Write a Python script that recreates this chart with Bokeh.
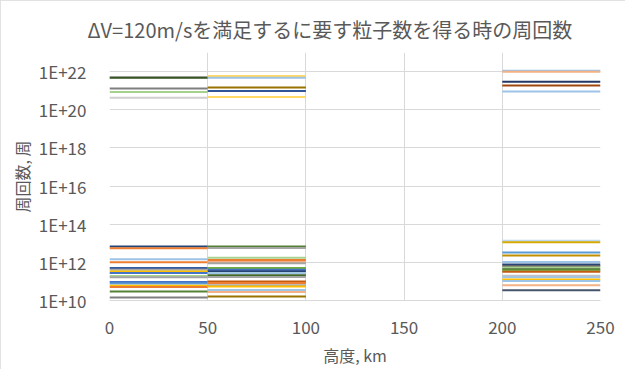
from bokeh.plotting import figure
from bokeh.models import ColumnDataSource, Range1d, FixedTicker, CustomJSTickFormatter, InlineStyleSheet
from bokeh.embed import file_html
from bokeh.resources import INLINE

# ---------------- data ----------------
title_text = "ΔV=120m/sを満足するに要す粒子数を得る時の周回数"
x_label = "高度, km"
y_label = "周回数, 周"
x_ticks = [0, 50, 100, 150, 200, 250]
y_ticks = [1e10, 1e12, 1e14, 1e16, 1e18, 1e20, 1e22]
y_tick_labels = ["1E+10", "1E+12", "1E+14", "1E+16", "1E+18", "1E+20", "1E+22"]

alt_0_50 = [0, 50]
alt_50_100 = [50, 100]
alt_200_250 = [200, 250]

# 0-50 km, upper cluster
orbits_0_50_high = [5.1e21, 4.7e21, 1.3e21, 8.5e20, 4.3e20]
colors_0_50_high = ["#A5A5A5", "#375623", "#7F7F7F", "#A9D18E", "#D0CECE"]

# 50-100 km, upper cluster
orbits_50_100_high = [5.9e21, 4.7e21, 1.45e21, 9.5e20, 4.7e20]
colors_50_100_high = ["#FFD966", "#9DC3E6", "#997300", "#2F5597", "#FFD966"]

# 200-250 km, upper cluster
orbits_200_250_high = [1.12e22, 9.8e21, 2.9e21, 1.86e21, 8.9e20]
colors_200_250_high = ["#9DC3E6", "#F4B183", "#203864", "#9E480E", "#9DC3E6"]

# 0-50 km, lower cluster
orbits_0_50_low = [6.8e12, 5.4e12, 1.45e12, 1.02e12, 5.1e11, 4.1e11, 3.3e11, 2.8e11,
                   1.9e11, 1.66e11, 9.3e10, 7.9e10, 6.0e10, 5.1e10, 3.0e10, 1.45e10]
colors_0_50_low = ["#264478", "#ED7D31", "#9DC3E6", "#ED7D31", "#335AA1", "#A5A5A5",
                   "#FFC000", "#4472C4", "#A9D18E", "#A5A5A5", "#4472C4", "#5B9BD5",
                   "#FFC000", "#ED7D31", "#548235", "#7F7F7F"]

# 50-100 km, lower cluster
orbits_50_100_low = [6.8e12, 5.6e12, 1.74e12, 1.32e12, 1.05e12, 9.1e11, 5.1e11, 4.1e11,
                     3.4e11, 2.7e11, 2.1e11, 1.7e11, 1.0e11, 8.3e10, 6.3e10, 5.5e10,
                     3.5e10, 2.75e10, 1.6e10]
colors_50_100_low = ["#548235", "#A5A5A5", "#A9D18E", "#ED7D31", "#F4B183", "#A5A5A5",
                     "#70AD47", "#4472C4", "#264478", "#9DC3E6", "#43682B", "#A5A5A5",
                     "#C55A11", "#ED7D31", "#A5A5A5", "#FFC000", "#9DC3E6", "#F4B183",
                     "#997300"]

# 200-250 km, lower cluster
orbits_200_250_low = [1.35e13, 1.12e13, 3.3e12, 2.3e12, 1.05e12, 7.8e11, 6.5e11, 5.4e11,
                      4.4e11, 3.7e11, 3.2e11, 2.0e11, 1.66e11, 1.26e11, 1.05e11, 6.3e10,
                      3.4e10]
colors_200_250_low = ["#BDD7EE", "#D6A800", "#5B9BD5", "#BF9000", "#9DC3E6", "#264478",
                      "#636363", "#A9D18E", "#43682B", "#70AD47", "#C55A11", "#BFBFBF",
                      "#9DC3E6", "#FFC000", "#9DC3E6", "#F4B183", "#44546A"]

groups = [
    (alt_0_50, orbits_0_50_high, colors_0_50_high),
    (alt_50_100, orbits_50_100_high, colors_50_100_high),
    (alt_200_250, orbits_200_250_high, colors_200_250_high),
    (alt_0_50, orbits_0_50_low, colors_0_50_low),
    (alt_50_100, orbits_50_100_low, colors_50_100_low),
    (alt_200_250, orbits_200_250_low, colors_200_250_low),
]

xs, ys, cs = [], [], []
for alt, vals, cols in groups:
    for v, c in zip(vals, cols):
        xs.append(list(alt))
        ys.append([v, v])
        cs.append(c)
src = ColumnDataSource(dict(xs=xs, ys=ys, color=cs))

# ---------------- figure ----------------
FONT = "Noto Sans CJK JP"
TXT = "#595959"
GRID = "#D9D9D9"

p = figure(width=625, height=369, x_range=Range1d(0, 250), y_range=Range1d(1e10, 1e23),
           y_axis_type="log", output_backend="svg", toolbar_location=None,
           min_border_left=109, min_border_right=25, min_border_top=52, min_border_bottom=54)
p.stylesheets = [InlineStyleSheet(css=":host { outline: 1px solid #D9D9D9; outline-offset: -1px; }")]
p.outline_line_color = None
p.background_fill_color = "white"
p.border_fill_color = "white"

p.multi_line(xs="xs", ys="ys", line_color="color", line_width=2, source=src)

p.title.text = title_text
p.title.align = "left"
p.title.offset = -22
p.title.standoff = 18
p.title.text_font = FONT
p.title.text_font_size = "20px"
p.title.text_font_style = "normal"
p.title.text_color = TXT

p.xaxis.ticker = FixedTicker(ticks=x_ticks)
p.yaxis.ticker = FixedTicker(ticks=y_ticks)
p.yaxis.formatter = CustomJSTickFormatter(
    args=dict(labels=y_tick_labels, vals=y_ticks),
    code="""
    const e = Math.round(Math.log10(tick));
    for (let i = 0; i < vals.length; i++) {
        if (Math.round(Math.log10(vals[i])) === e) return labels[i];
    }
    return "";
    """)

for ax in (p.xaxis, p.yaxis):
    ax.major_tick_line_color = None
    ax.minor_tick_line_color = None
    ax.major_label_text_font = FONT
    ax.major_label_text_font_size = "17px"
    ax.major_label_text_color = TXT
    ax.axis_label_text_font = FONT
    ax.axis_label_text_font_size = "16px"
    ax.axis_label_text_font_style = "normal"
    ax.axis_label_text_color = TXT

p.xaxis.axis_line_color = GRID
p.yaxis.axis_line_color = None
p.xaxis.axis_label = x_label
p.yaxis.axis_label = y_label
p.xaxis.major_label_standoff = 14
p.yaxis.major_label_standoff = 17
p.xaxis.axis_label_standoff = 6
p.yaxis.axis_label_standoff = 2

p.xgrid.grid_line_color = GRID
p.ygrid.grid_line_color = GRID

open("out.html", "w").write(file_html(p, INLINE))
